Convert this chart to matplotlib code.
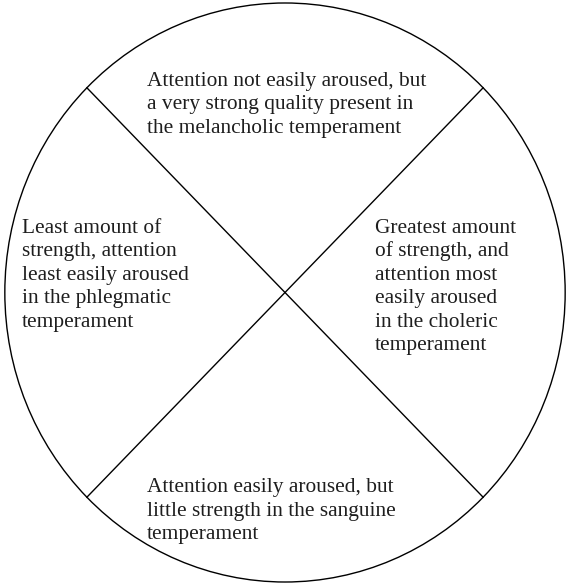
import numpy as np
import matplotlib.pyplot as plt
from matplotlib.patches import Ellipse

# text of the four quarters, one list of lines per block
top_lines = ["Attention not easily aroused, but",
             "a very strong quality present in",
             "the melancholic temperament"]
left_lines = ["Least amount of",
              "strength, attention",
              "least easily aroused",
              "in the phlegmatic",
              "temperament"]
right_lines = ["Greatest amount",
               "of strength, and",
               "attention most",
               "easily aroused",
               "in the choleric",
               "temperament"]
bottom_lines = ["Attention easily aroused, but",
                "little strength in the sanguine",
                "temperament"]

# drawing units: the picture is laid out on a 590 x 586 grid
# and squeezed into the 570 x 585 output
GW, GH = 590, 586
fig = plt.figure(figsize=(5.70, 5.85), dpi=100)
ax = fig.add_axes([0, 0, 1, 1])
ax.set_xlim(0, GW)
ax.set_ylim(GH, 0)
ax.axis("off")

# the circle and the two diagonals through its centre
cx, cy, r = 295, 293, 290
ax.add_patch(Ellipse((cx, cy), 2 * r, 2 * r, fill=False, ec="black", lw=1.0))
d = r * np.cos(np.pi / 4)
ax.plot([cx - d, cx + d], [cy - d, cy + d], color="black", lw=1.0)
ax.plot([cx + d, cx - d], [cy - d, cy + d], color="black", lw=1.0)

FS = 15.4
LEAD = 23.6
font = dict(family="Liberation Serif", fontsize=FS, color="#1e1e1e")


def block(lines, x, y0):
    for i, line in enumerate(lines):
        ax.text(x, y0 + i * LEAD, line, ha="left", va="baseline", **font)


block(top_lines, 152, 86)
block(left_lines, 23, 233)
block(right_lines, 388, 233)
block(bottom_lines, 152, 493)

fig.savefig("out.png", dpi=100)
